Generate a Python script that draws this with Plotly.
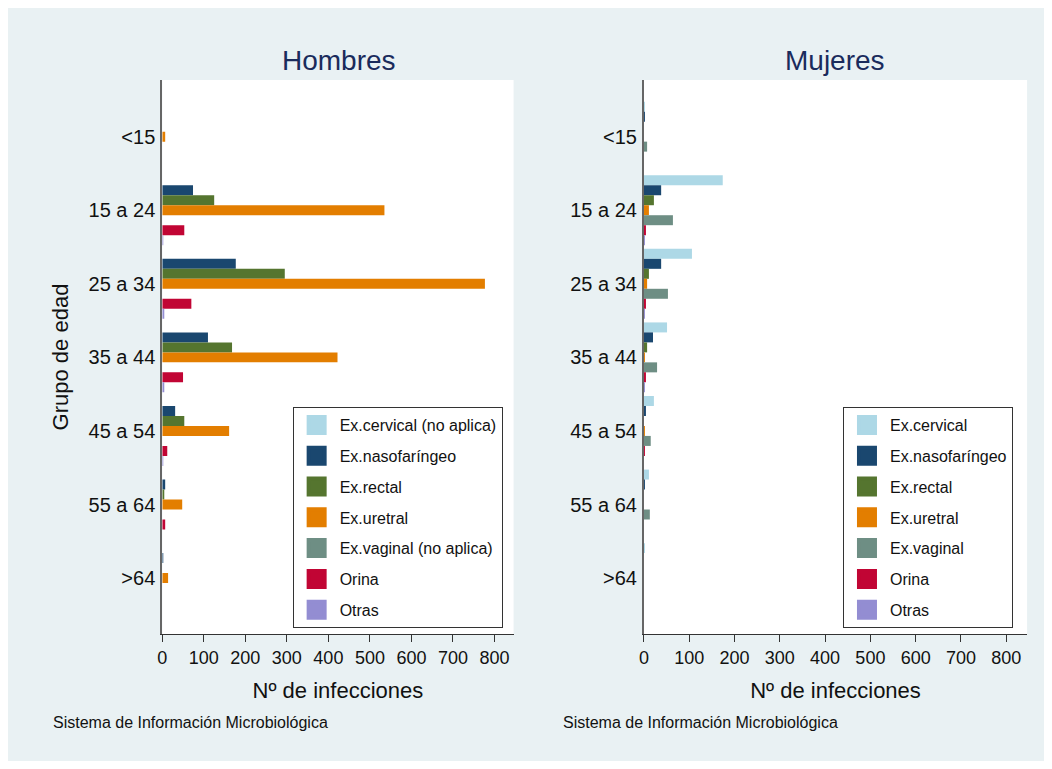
import plotly.graph_objects as go

# ---------------- data ----------------
age_groups = ["<15", "15 a 24", "25 a 34", "35 a 44", "45 a 54", "55 a 64", ">64"]
labels_men = ["Ex.cervical (no aplica)", "Ex.nasofaríngeo", "Ex.rectal", "Ex.uretral",
              "Ex.vaginal (no aplica)", "Orina", "Otras"]
labels_women = ["Ex.cervical", "Ex.nasofaríngeo", "Ex.rectal", "Ex.uretral",
                "Ex.vaginal", "Orina", "Otras"]

men_cervical = [0, 0, 0, 0, 0, 0, 0]
men_naso = [0, 74, 177, 110, 31, 7, 1]
men_rectal = [0, 125, 295, 168, 53, 3, 0]
men_uretral = [7, 535, 777, 422, 161, 48, 14]
men_vaginal = [0, 0, 0, 0, 0, 0, 0]
men_orina = [0, 53, 70, 50, 12, 7, 0]
men_otras = [0, 1, 4, 3, 1, 0, 0]

women_cervical = [1, 174, 106, 51, 22, 11, 1]
women_naso = [2, 38, 38, 20, 4, 2, 0]
women_rectal = [0, 22, 11, 7, 0, 0, 0]
women_uretral = [0, 11, 7, 1, 2, 0, 0]
women_vaginal = [7, 64, 53, 29, 15, 13, 0]
women_orina = [0, 4, 4, 4, 2, 0, 0]
women_otras = [0, 1, 1, 1, 0, 0, 0]

x_ticks = [0, 100, 200, 300, 400, 500, 600, 700, 800]

colors = ["#add8e6", "#1a476f", "#55752f", "#e37e00", "#6e8e84", "#c10534", "#938dd2"]

men = [men_cervical, men_naso, men_rectal, men_uretral, men_vaginal, men_orina, men_otras]
women = [women_cervical, women_naso, women_rectal, women_uretral, women_vaginal,
         women_orina, women_otras]

FONT = "Liberation Sans, Arial, sans-serif"
BG = "#e9f1f3"

fig = go.Figure()

for i in range(7):
    fig.add_trace(go.Bar(y=age_groups, x=men[i], orientation="h", marker_color=colors[i],
                         marker_line_width=0, xaxis="x", yaxis="y", showlegend=False,
                         offsetgroup=str(i), name=labels_men[i]))
    fig.add_trace(go.Bar(y=age_groups, x=women[i], orientation="h", marker_color=colors[i],
                         marker_line_width=0, xaxis="x2", yaxis="y2", showlegend=False,
                         offsetgroup=str(i), name=labels_women[i]))

# legend-only entries (large square swatches)
for i in range(7):
    fig.add_trace(go.Scatter(x=[None], y=[None], mode="markers", name=labels_men[i],
                             marker=dict(symbol="square", size=16, color=colors[i],
                                         line=dict(color=colors[i], width=4)),
                             legend="legend", legendgroup="m" + str(i),
                             xaxis="x", yaxis="y"))
for i in range(7):
    fig.add_trace(go.Scatter(x=[None], y=[None], mode="markers", name=labels_women[i],
                             marker=dict(symbol="square", size=16, color=colors[i],
                                         line=dict(color=colors[i], width=4)),
                             legend="legend2", legendgroup="w" + str(i),
                             xaxis="x2", yaxis="y2"))

W, H = 1036, 753

xcommon = dict(range=[0, 846], tickvals=x_ticks, ticks="outside", ticklen=7, tickwidth=1,
               tickcolor="#333333", showline=True, linecolor="#333333", linewidth=1,
               showgrid=False, zeroline=False, tickfont=dict(size=18, color="#111111"),
               title=dict(text="Nº de infecciones", font=dict(size=22, color="#111111"),
                          standoff=16))
ycommon = dict(type="category", categoryorder="array", categoryarray=age_groups,
               range=[6.76, -0.77], showline=True, linecolor="#666666", linewidth=2,
               ticks="", showgrid=False, zeroline=False,
               tickfont=dict(size=20, color="#111111"), ticklabelstandoff=1)

legcommon = dict(bgcolor="white", bordercolor="#333333", borderwidth=1,
                 font=dict(size=16, color="#111111", family=FONT),
                 tracegroupgap=7, xanchor="left", yanchor="top", itemwidth=36)

fig.update_layout(
    width=W, height=H,
    margin=dict(l=0, r=0, t=0, b=0),
    paper_bgcolor=BG, plot_bgcolor="white",
    font=dict(family=FONT, color="#111111"),
    barmode="group", bargap=0.05, bargroupgap=0,
    xaxis=dict(domain=[150 / W, 503 / W], anchor="y", **xcommon),
    yaxis=dict(domain=[127 / H, 681 / H], anchor="x",
               title=dict(text="Grupo de edad", font=dict(size=22, color="#111111"),
                          standoff=14), **ycommon),
    xaxis2=dict(domain=[634 / W, 1019 / W], anchor="y2", **xcommon),
    yaxis2=dict(domain=[127 / H, 681 / H], anchor="x2", **ycommon),
    legend=dict(x=281 / W, y=354 / H, **legcommon),
    legend2=dict(x=834 / W, y=354 / H, **legcommon),
    annotations=[
        dict(text="Hombres", x=327.5 / W, y=(H - 52) / H, xref="paper", yref="paper",
             showarrow=False, xanchor="center", yanchor="middle",
             font=dict(size=28, color="#1a2b5c")),
        dict(text="Mujeres", x=825.5 / W, y=(H - 52) / H, xref="paper", yref="paper",
             showarrow=False, xanchor="center", yanchor="middle",
             font=dict(size=28, color="#1a2b5c")),
        dict(text="Sistema de Información Microbiológica", x=38 / W, y=39 / H,
             xref="paper", yref="paper", showarrow=False, xanchor="left",
             yanchor="middle", font=dict(size=16, color="#111111")),
        dict(text="Sistema de Información Microbiológica", x=551 / W, y=39 / H,
             xref="paper", yref="paper", showarrow=False, xanchor="left",
             yanchor="middle", font=dict(size=16, color="#111111")),
    ],
)

fig.write_html("out.html")
